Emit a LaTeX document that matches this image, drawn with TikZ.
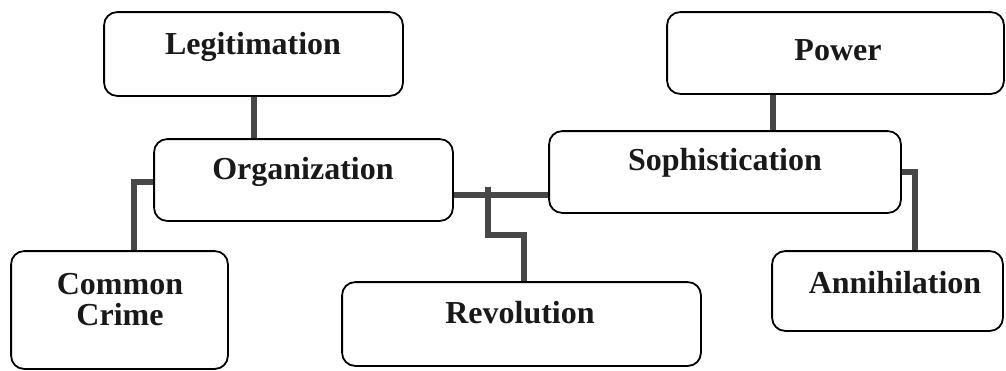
\documentclass[tikz,border=0pt]{standalone}
\usepackage{fontspec}
\setmainfont{Liberation Serif}
\begin{document}
\begin{tikzpicture}[x=1pt,y=-1pt,
  box/.style={draw=black,line width=1.8pt,rounded corners=13pt,fill=white,inner sep=0pt},
  lbl/.style={font=\fontsize{32}{31}\selectfont\bfseries,inner sep=0pt,align=center,text=black!90},
  link/.style={draw=black!72,line width=6pt}]
\useasboundingbox (0,0) rectangle (1006,370);
% boxes (geometry)
\path
  node[box,minimum width=297pt,minimum height=82pt] (leg) at (253.5,54) {}
  node[box,minimum width=335pt,minimum height=80pt] (pow) at (835.5,53) {}
  node[box,minimum width=297pt,minimum height=80pt] (org) at (303.5,180) {}
  node[box,minimum width=350pt,minimum height=80pt] (soph) at (725,172) {}
  node[box,minimum width=215pt,minimum height=116pt] (cc) at (119.5,310) {}
  node[box,minimum width=357pt,minimum height=82pt] (rev) at (521.5,324) {}
  node[box,minimum width=229pt,minimum height=78pt] (ann) at (887.5,291) {};
% connectors
\coordinate (rj) at (488,187);
\draw[link] (leg.south) -- (org.north -| leg.south);
\draw[link] (pow.south -| 773,0) -- (soph.north -| 773,0);
\draw[link] ([yshift=-2pt]org.west) -| ([xshift=14.5pt]cc.north);
\draw[link] ([yshift=-15pt]org.east) -- ([yshift=-15pt]org.east -| soph.west);
\draw[link] (rj) |- (524,235) -- ([xshift=2.5pt]rev.north);
\draw[link] (soph.east) -| ([xshift=27.5pt]ann.north);
% redraw boxes on top
\foreach \n in {leg,pow,org,soph,cc,rev,ann}{
  \draw[draw=black,line width=1.8pt,rounded corners=13pt,fill=white] (\n.north west) rectangle (\n.south east);
}
% labels
\node[lbl] (legT) at (253,47) {Legitimation};
\node[lbl] (powT) at (838,50) {Power};
\node[lbl] (orgT) at (303,172) {Organization};
\node[lbl] (sophT) at (725,163) {Sophistication};
\node[lbl] (ccT) at (120,300) {Common\\Crime};
\node[lbl] (revT) at (520,313) {Revolution};
\node[lbl] (annT) at (895,283) {Annihilation};
\end{tikzpicture}
\end{document}
